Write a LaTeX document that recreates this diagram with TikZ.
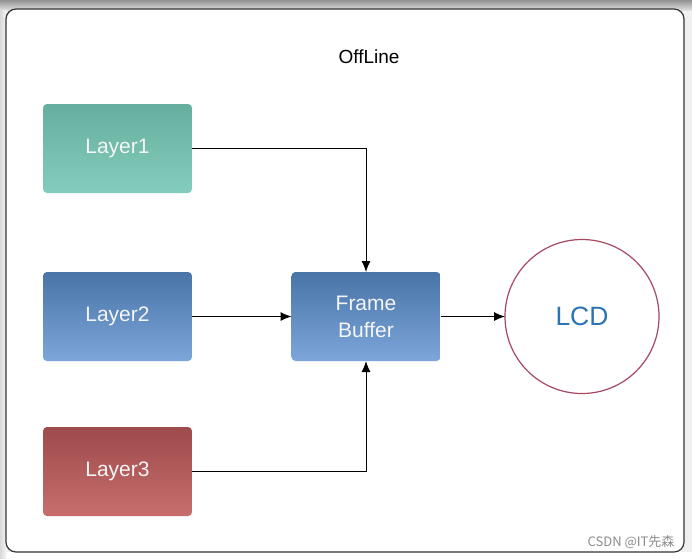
\documentclass[tikz,border=0pt]{standalone}
\usepackage{fontspec}
\setmainfont{Liberation Sans}
\newfontfamily\cjkfont{Noto Sans CJK SC}
\usetikzlibrary{arrows.meta}
\definecolor{tealtop}{HTML}{66AE9E}
\definecolor{tealbot}{HTML}{84CDBD}
\definecolor{bluetop}{HTML}{4874A8}
\definecolor{bluebot}{HTML}{7DA6DA}
\definecolor{redtop}{HTML}{9E4B4B}
\definecolor{redbot}{HTML}{C76D6D}
\definecolor{lcdring}{HTML}{A64860}
\definecolor{lcdtext}{HTML}{2C74B6}
\definecolor{boxtext}{HTML}{F5F5F5}
\tikzset{
  layerbox/.style={rectangle, rounded corners=4pt, minimum width=149pt, minimum height=89pt,
    inner sep=0pt, outer sep=0pt, text=boxtext, font=\fontsize{21}{27}\selectfont, align=center},
  tealbox/.style={layerbox, top color=tealtop, bottom color=tealbot},
  bluebox/.style={layerbox, top color=bluetop, bottom color=bluebot},
  redbox/.style={layerbox, top color=redtop, bottom color=redbot},
  arr/.style={draw=black, line width=1pt, -{Latex[length=11pt,width=9pt]}},
}
\begin{document}
\begin{tikzpicture}[x=1pt,y=-1pt]
\useasboundingbox (0,0) rectangle (692,558);
% window background
\fill[gray!12] (0,0) rectangle (692,558);
\shade[top color=gray!85, bottom color=gray!25] (0,0) rectangle (692,10);
\shade[left color=gray!30, right color=gray!8] (0,10) rectangle (6,558);
\fill[white] (6,552) rectangle (692,558);
\filldraw[fill=white, draw=black!80, line width=1.2pt, rounded corners=10pt] (6,9) rectangle (684,552);
% title
\node (title) at (369,57) {\fontsize{19}{22}\selectfont OffLine};
% boxes
\node[tealbox] (l1) at (117.5,148.5) {Layer1};
\node[bluebox] (l2) at (117.5,316.5) {Layer2};
\node[redbox] (l3) at (117.5,471.5) {Layer3};
\node[bluebox] (fb) at (366,316.5) {Frame\\Buffer};
\node[circle, draw=lcdring, line width=1.2pt, minimum size=154pt, inner sep=0pt, outer sep=0pt,
      text=lcdtext, font=\fontsize{26.5}{31}\selectfont] (lcd) at (582,316.5) {LCD};
% connectors
\draw[arr] (l1.east) -| (fb.north);
\draw[arr] (l2.east) -- (fb.west);
\draw[arr] (l3.east) -| (fb.south);
\draw[arr] (fb.east) -- (lcd.west);
% watermark
\node[anchor=east, text=gray!90, font=\cjkfont\fontsize{13}{15}\selectfont] (wm) at (678,542) {CSDN @IT先森};
\end{tikzpicture}
\end{document}
